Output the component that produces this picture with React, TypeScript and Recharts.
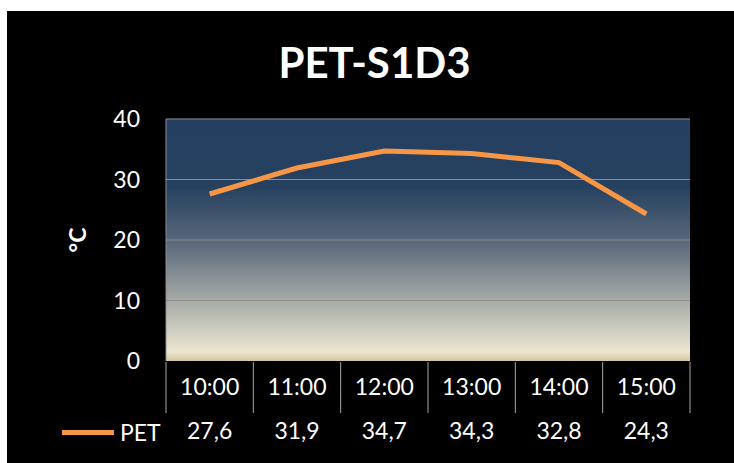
import React from 'react';
import { LineChart, Line, XAxis, YAxis, CartesianGrid } from 'recharts';

const hours = ['10:00', '11:00', '12:00', '13:00', '14:00', '15:00'];
const petValues = [27.6, 31.9, 34.7, 34.3, 32.8, 24.3];
const yTicks = [0, 10, 20, 30, 40];
const gridValues = [10, 20, 30, 40];
// boundaries between the table cells under the plot
const cellEdges = [0, 1, 2, 3, 4, 5, 6];

const data = hours.map((hour, i) => ({ hour, pet: petValues[i] }));

const font = "Lato, 'Open Sans', sans-serif";
const lineColor = '#F79646';
const gridColor = '#8C8C8C';
const sepColor = '#A6A6A6';

const fmt = (v: number) => v.toFixed(1).replace('.', ',');
const NoLabel = () => <g />;

export default function App() {
  return (
    <div
      style={{
        position: 'fixed',
        left: 7,
        top: 11,
        width: 727,
        height: 452,
        background: '#000',
        fontFamily: font,
      }}
    >
      <div
        style={{
          position: 'absolute',
          top: 30,
          left: 4,
          width: '100%',
          textAlign: 'center',
          color: '#fff',
          fontSize: 42,
          lineHeight: '42px',
          fontWeight: 700,
        }}
      >
        PET-S1D3
      </div>

      <LineChart
        width={727}
        height={452}
        data={data}
        margin={{ top: 108, right: 44, bottom: 99, left: 0 }}
        style={{ position: 'absolute', left: 0, top: 0 }}
      >
        <defs>
          <linearGradient id="plotBg" x1="0" y1="0" x2="0" y2="1">
            <stop offset="0%" stopColor="#243F61" />
            <stop offset="28%" stopColor="#26415F" />
            <stop offset="52%" stopColor="#5C6B7D" />
            <stop offset="76%" stopColor="#A9AEA9" />
            <stop offset="96%" stopColor="#ECE6D2" />
            <stop offset="100%" stopColor="#D6C79E" />
          </linearGradient>
        </defs>
        <CartesianGrid
          fill="url(#plotBg)"
          fillOpacity={1}
          stroke={gridColor}
          vertical={false}
          horizontalValues={gridValues}
        />
        <YAxis
          width={159}
          domain={[0, 40]}
          ticks={yTicks}
          axisLine={{ stroke: gridColor }}
          tickLine={false}
          tickSize={0}
          tickMargin={26}
          tick={{ fill: '#fff', fontSize: 23, fontFamily: font }}
          label={{
            value: '°C',
            angle: -90,
            position: 'insideLeft',
            offset: 71,
            fill: '#fff',
            fontSize: 23,
            fontWeight: 700,
            fontFamily: font,
            style: { textAnchor: 'middle' },
          }}
        />
        <XAxis
          xAxisId="edges"
          dataKey="edge"
          type="number"
          domain={[0, hours.length]}
          allowDataOverflow
          ticks={cellEdges}
          height={1}
          axisLine={false}
          tick={NoLabel}
          tickSize={51}
          tickLine={{ stroke: sepColor }}
        />
        <XAxis
          dataKey="hour"
          scale="band"
          height={1}
          axisLine={false}
          tickLine={false}
          tickSize={0}
          tickMargin={18}
          interval={0}
          tick={{ fill: '#fff', fontSize: 23, fontFamily: font }}
        />
        <XAxis
          xAxisId="values"
          dataKey="hour"
          scale="band"
          height={1}
          axisLine={false}
          tickLine={false}
          tickSize={0}
          tickMargin={60}
          interval={0}
          tickFormatter={(_v: string, i: number) => fmt(petValues[i])}
          tick={{ fill: '#fff', fontSize: 23, fontFamily: font }}
        />
        <Line
          dataKey="pet"
          stroke={lineColor}
          strokeWidth={5}
          dot={false}
          activeDot={false}
          isAnimationActive={false}
        />
      </LineChart>

      {/* legend key in the table's value row */}
      <div
        style={{
          position: 'absolute',
          left: 55,
          top: 406,
          display: 'flex',
          alignItems: 'center',
          color: '#fff',
          fontSize: 23,
          lineHeight: '30px',
        }}
      >
        <span style={{ display: 'inline-block', width: 52, height: 5, background: lineColor, marginRight: 6 }} />
        <span>PET</span>
      </div>
    </div>
  );
}
